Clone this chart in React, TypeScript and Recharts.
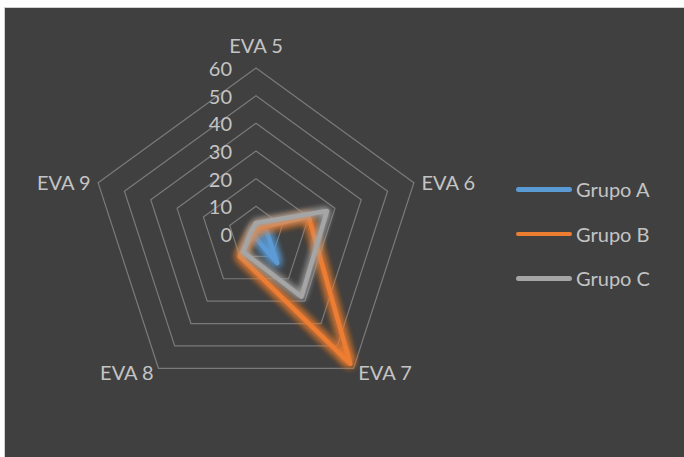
import React from 'react';
import { RadarChart, Radar, PolarGrid, PolarAngleAxis, PolarRadiusAxis } from 'recharts';

// Categories around the radar and the three group series
const categories = ['EVA 5', 'EVA 6', 'EVA 7', 'EVA 8', 'EVA 9'];
const grupoA = [1, 4, 13, 1, 1];
const grupoB = [2, 20, 58, 10, 1];
const grupoC = [4, 27, 28, 8, 2];
const radiusTicks = [0, 10, 20, 30, 40, 50, 60];

const seriesNames = ['Grupo A', 'Grupo B', 'Grupo C'];
const seriesKeys = ['a', 'b', 'c'];
const seriesColors = ['#5B9BD5', '#ED7D31', '#A5A5A5'];

const data = categories.map((name, i) => ({
  name,
  a: grupoA[i],
  b: grupoB[i],
  c: grupoC[i],
}));

const FONT = 'Lato, "Open Sans", sans-serif';
const TEXT = '#C4C4C4';
const FONT_SIZE = 20;

const AngleTick = (props: any) => {
  const { x, y, payload, textAnchor } = props;
  let dy = 2;
  if (textAnchor === 'middle') dy = -15;
  else if (y > 300) dy = -3;
  return (
    <text
      x={x}
      y={y + dy}
      textAnchor={textAnchor}
      dominantBaseline="central"
      fill={TEXT}
      fontSize={FONT_SIZE}
      fontFamily={FONT}
    >
      {payload.value}
    </text>
  );
};

const RadiusTick = (props: any) => {
  const { x, y, payload } = props;
  return (
    <text
      x={x - 24}
      y={y}
      textAnchor="end"
      dominantBaseline="central"
      fill={TEXT}
      fontSize={FONT_SIZE}
      fontFamily={FONT}
    >
      {payload.value}
    </text>
  );
};

const glowShape = (idx: number) => (props: any) => {
  const pts = (props.points || []).map((p: any) => `${p.x},${p.y}`).join(' ');
  return (
    <polygon
      points={pts}
      fill="none"
      stroke={seriesColors[idx]}
      strokeWidth={4.5}
      strokeLinejoin="round"
      filter={`url(#glow-${idx})`}
    />
  );
};

export default function App() {
  return (
    <div style={{ position: 'absolute', left: 0, top: 0, width: 684, height: 457, background: '#ffffff' }}>
      <div
        style={{
          position: 'absolute',
          left: 4,
          top: 7,
          width: 680,
          height: 450,
          boxSizing: 'border-box',
          background: '#404040',
          borderLeft: '1px solid #d0d0d0',
          borderTop: '1px solid #d0d0d0',
        }}
      />
      <div style={{ position: 'absolute', left: 0, top: 0 }}>
        <RadarChart
          width={684}
          height={457}
          data={data}
          cx={256}
          cy={234}
          outerRadius={166}
          margin={{ top: 0, right: 0, bottom: 0, left: 0 }}
        >
          <defs>
            {seriesColors.map((c, i) => (
              <filter
                key={i}
                id={`glow-${i}`}
                filterUnits="userSpaceOnUse"
                x={0}
                y={0}
                width={684}
                height={457}
              >
                <feGaussianBlur in="SourceGraphic" stdDeviation={i === 2 ? 3.5 : 4.5} result="blur" />
                <feMerge>
                  <feMergeNode in="blur" />
                  <feMergeNode in="blur" />
                  {i !== 2 && <feMergeNode in="blur" />}
                  <feMergeNode in="SourceGraphic" />
                </feMerge>
              </filter>
            ))}
          </defs>
          <PolarGrid gridType="polygon" radialLines={false} stroke="#7a7a7a" strokeWidth={1.2} />
          <PolarAngleAxis dataKey="name" tick={AngleTick} tickLine={false} axisLine={false} />
          <PolarRadiusAxis
            angle={90}
            domain={[0, 60]}
            ticks={radiusTicks as any}
            tickCount={7}
            axisLine={false}
            tick={RadiusTick}
          />
          {seriesKeys.map((k, i) => (
            <Radar
              key={k}
              name={seriesNames[i]}
              dataKey={k}
              stroke={seriesColors[i]}
              fill="none"
              fillOpacity={0}
              dot={false}
              isAnimationActive={false}
              shape={glowShape(i)}
            />
          ))}
        </RadarChart>
      </div>
      <div style={{ position: 'absolute', left: 516, top: 167 }}>
        {seriesNames.map((n, i) => (
          <div
            key={n}
            style={{ display: 'flex', alignItems: 'center', height: 44.5 }}
          >
            <div
              style={{
                width: 56,
                height: 4.5,
                borderRadius: 3,
                background: seriesColors[i],
                marginRight: 4,
              }}
            />
            <span style={{ color: TEXT, fontSize: FONT_SIZE, fontFamily: FONT, lineHeight: '20px' }}>{n}</span>
          </div>
        ))}
      </div>
    </div>
  );
}
